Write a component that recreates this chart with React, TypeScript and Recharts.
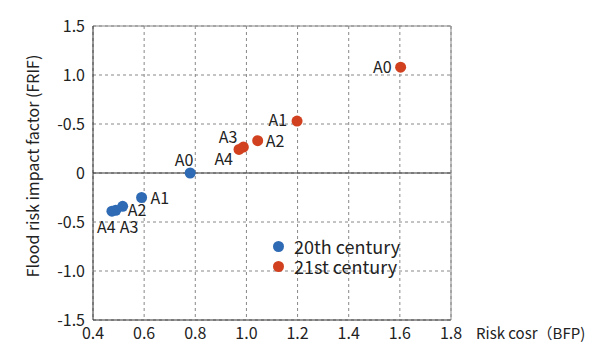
import React from 'react';
import {
  ScatterChart,
  Scatter,
  XAxis,
  YAxis,
  CartesianGrid,
  ReferenceLine,
  LabelList,
} from 'recharts';

// Scenario names, same for both centuries
const SCENARIOS = ['A0', 'A1', 'A2', 'A3', 'A4'];

// Risk cost (BFP) and FRIF
const C20_COST = [0.78, 0.59, 0.516, 0.489, 0.474];
const C20_FRIF = [0.0, -0.25, -0.34, -0.38, -0.39];
const C21_COST = [1.603, 1.198, 1.044, 0.988, 0.971];
const C21_FRIF = [1.08, 0.53, 0.33, 0.265, 0.24];

const X_TICKS = [0.4, 0.6, 0.8, 1.0, 1.2, 1.4, 1.6, 1.8];
const Y_TICKS = [-1.5, -1.0, -0.5, 0, 0.5, 1.0, 1.5];
// tick text as printed in the original (the 0.5 tick reads "-0.5")
const Y_TICK_LABELS = ['-1.5', '-1.0', '-0.5', '0', '-0.5', '1.0', '1.5'];

const SERIES_NAMES = ['20th century', '21st century'];

const BLUE = '#2f6bb4';
const RED = '#d1411f';
const FONT = '"Noto Sans CJK JP", "Noto Sans", sans-serif';
const TEXT = '#222';

// label placement around each dot: [dx, dy, anchor]
const C20_LABEL_POS: [number, number, string][] = [
  [-6, -7, 'middle'],
  [9, 6, 'start'],
  [5, 10, 'start'],
  [4, 23, 'start'],
  [-15, 22, 'start'],
];
const C21_LABEL_POS: [number, number, string][] = [
  [-9, 6, 'end'],
  [-10, 5, 'end'],
  [8, 6, 'start'],
  [-6, -4, 'end'],
  [-6, 16, 'end'],
];

const c20 = SCENARIOS.map((name, i) => ({ name, x: C20_COST[i], y: C20_FRIF[i] }));
const c21 = SCENARIOS.map((name, i) => ({ name, x: C21_COST[i], y: C21_FRIF[i] }));

const dot = (color: string) => (props: any) => (
  <circle cx={props.cx} cy={props.cy} r={5.5} fill={color} />
);

const pointLabel = (pos: [number, number, string][]) => (props: any) => {
  const { x, y, width, height, index, value } = props;
  const cx = x + (width || 0) / 2;
  const cy = y + (height || 0) / 2;
  const [dx, dy, anchor] = pos[index];
  return (
    <text
      x={cx + dx}
      y={cy + dy}
      textAnchor={anchor}
      fontSize={16}
      fontFamily={FONT}
      fill={TEXT}
    >
      {value}
    </text>
  );
};

export default function App() {
  return (
    <div style={{ position: 'absolute', left: 0, top: 0, width: 600, height: 355, background: '#fff' }}>
      <ScatterChart
        width={600}
        height={355}
        margin={{ top: 26, right: 149, bottom: 5, left: 43 }}
      >
        <CartesianGrid stroke="#888" strokeDasharray="3 3" />
        <XAxis
          type="number"
          dataKey="x"
          domain={[0.4, 1.8]}
          ticks={X_TICKS}
          tickFormatter={(v: number) => v.toFixed(1)}
          axisLine={{ stroke: '#333' }}
          tickLine={false}
          height={30}
          tick={{ fontSize: 16, fontFamily: FONT, fill: TEXT }}
          label={{
            content: (p: any) => (
              <text
                x={p.viewBox.x + p.viewBox.width + 25}
                y={p.viewBox.y + 19}
                fontSize={15}
                fontFamily={FONT}
                fill={TEXT}
              >
                Risk cosr（BFP)
              </text>
            ),
          }}
        />
        <YAxis
          type="number"
          dataKey="y"
          domain={[-1.5, 1.5]}
          ticks={Y_TICKS}
          tickFormatter={(v: number) => Y_TICK_LABELS[Y_TICKS.indexOf(v)] ?? String(v)}
          axisLine={{ stroke: '#333' }}
          tickLine={false}
          width={50}
          tick={{ fontSize: 16, fontFamily: FONT, fill: TEXT }}
          label={{
            content: (p: any) => (
              <text
                x={35}
                y={166}
                transform="rotate(-90, 35, 166)"
                textAnchor="middle"
                dominantBaseline="middle"
                fontSize={16}
                fontFamily={FONT}
                fill={TEXT}
              >
                Flood risk impact factor (FRIF)
              </text>
            ),
          }}
        />
        <ReferenceLine y={0} stroke="#333" />
        <ReferenceLine y={1.5} stroke="#888" />
        <ReferenceLine x={1.8} stroke="#888" />
        <Scatter name={SERIES_NAMES[0]} data={c20} fill={BLUE} shape={dot(BLUE)} isAnimationActive={false}>
          <LabelList dataKey="name" content={pointLabel(C20_LABEL_POS)} />
        </Scatter>
        <Scatter name={SERIES_NAMES[1]} data={c21} fill={RED} shape={dot(RED)} isAnimationActive={false}>
          <LabelList dataKey="name" content={pointLabel(C21_LABEL_POS)} />
        </Scatter>
      </ScatterChart>
      <div
        style={{
          position: 'absolute',
          left: 273,
          top: 236,
          fontFamily: FONT,
          fontSize: 18,
          color: TEXT,
          lineHeight: '20px',
        }}
      >
        {SERIES_NAMES.map((label, i) => (
          <div key={label} style={{ display: 'flex', alignItems: 'center' }}>
            <span
              style={{
                display: 'inline-block',
                width: 11,
                height: 11,
                borderRadius: '50%',
                background: i === 0 ? BLUE : RED,
                marginRight: 10,
              }}
            />
            <span>{label}</span>
          </div>
        ))}
      </div>
    </div>
  );
}
